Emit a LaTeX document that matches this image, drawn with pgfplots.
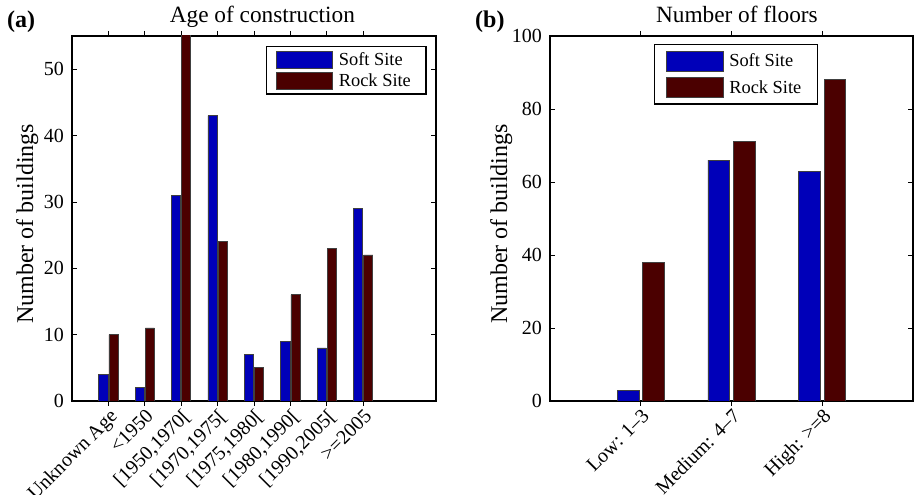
\documentclass[border=0pt]{standalone}
\usepackage{fontspec}
\setmainfont{Liberation Serif}
\usepackage{pgfplots}
\pgfplotsset{compat=1.18}
\definecolor{softblue}{RGB}{0,0,185}
\definecolor{rockred}{RGB}{75,0,0}

\pgfplotstableread{
x soft rock
1 4 10
2 2 11
3 31 57
4 43 24
5 7 5
6 9 16
7 8 23
8 29 22
}\agetable

\pgfplotstableread{
x soft rock
1 3 38
2 66 71
3 63 88
}\floortable

\begin{document}
\begin{tikzpicture}[x=1pt,y=1pt]
\path[use as bounding box] (0,0) rectangle (914,495);
\pgfplotsset{
  common/.style={
    scale only axis,
    anchor=south west,
    ymin=0,
    tick align=inside,
    major tick length=5pt,
    axis line style={line width=1.2pt, black},
    every tick/.style={line width=0.8pt, black},
    /pgf/number format/assume math mode=true,
    ticklabel style={font=\fontsize{20}{22}\selectfont},
    yticklabel style={inner sep=0pt, xshift=-8pt},
    xticklabel style={rotate=45, anchor=north east, inner sep=1pt},
    title style={anchor=base, font=\fontsize{23.3}{26}\selectfont},
    ylabel style={anchor=base, font=\fontsize{24}{26}\selectfont},
    ylabel={Number of buildings},
    ybar,
    legend cell align=left,
  },
  softbar/.style={fill=softblue, draw=black!75, line width=0.7pt},
  rockbar/.style={fill=rockred, draw=black!75, line width=0.7pt},
}
% (a)
\begin{axis}[common,
  at={(72pt,94pt)},
  width=364pt, height=365pt,
  xmin=0, xmax=10, ymax=55,
  xtick={1,...,8},
  xticklabels={{Unknown Age},{<1950},{[1950,1970[},{[1970,1975[},{[1975,1980[},{[1980,1990[},{[1990,2005[},{>=2005}},
  ytick={0,10,...,50},
  bar width=0.25,
  title={Age of construction},
  title style={at={(axis description cs:0.523,1)}, yshift=7pt},
  ylabel style={at={(axis description cs:-0.107,0.485)}},
  legend image code/.code={\draw[#1] (0pt,-8.5pt) rectangle (56pt,8.5pt);},
  legend style={at={(axis description cs:1,1)}, anchor=north east, xshift=-9.5pt, yshift=-10pt,
    draw=black, line width=1.2pt, inner xsep=10pt, inner ysep=4pt, row sep=4pt,
    font=\fontsize{18.4}{21}\selectfont,
    nodes={inner sep=0pt},
    /tikz/every odd column/.style={column sep=6pt}},
]
\addplot[softbar, bar shift=-0.14] table[x=x, y=soft] {\agetable};
\addlegendentry{Soft Site\hspace*{5pt}}
\addplot[rockbar, bar shift=0.14] table[x=x, y=rock] {\agetable};
\addlegendentry{Rock Site\hspace*{5pt}}
\end{axis}
% (b)
\begin{axis}[common,
  at={(550pt,94pt)},
  width=363pt, height=365pt,
  xmin=0, xmax=4, ymax=100,
  xtick={1,2,3},
  xticklabels={{Low: 1--3},{Medium: 4--7},{High: >=8}},
  ytick={0,20,...,100},
  bar width=0.24,
  title={Number of floors},
  title style={at={(axis description cs:0.515,1)}, yshift=7pt},
  ylabel style={at={(axis description cs:-0.118,0.485)}},
  legend image code/.code={\draw[#1] (0pt,-10pt) rectangle (57pt,10pt);},
  legend style={at={(axis description cs:0.2865,1)}, anchor=north west, yshift=-8pt,
    draw=black, line width=1.2pt, inner xsep=11pt, inner ysep=6pt, row sep=6pt,
    font=\fontsize{18.4}{21}\selectfont,
    nodes={inner sep=0pt},
    /tikz/every odd column/.style={column sep=6pt}},
]
\addplot[softbar, bar shift=-0.14] table[x=x, y=soft] {\floortable};
\addlegendentry{Soft Site\hspace*{5pt}}
\addplot[rockbar, bar shift=0.14] table[x=x, y=rock] {\floortable};
\addlegendentry{Rock Site\hspace*{5pt}}
\end{axis}
\node[anchor=base west, inner sep=0pt, font=\fontsize{24}{26}\selectfont\bfseries] at (7,467) {(a)};
\node[anchor=base west, inner sep=0pt, font=\fontsize{24}{26}\selectfont\bfseries] at (475,467) {(b)};
\end{tikzpicture}
\end{document}
